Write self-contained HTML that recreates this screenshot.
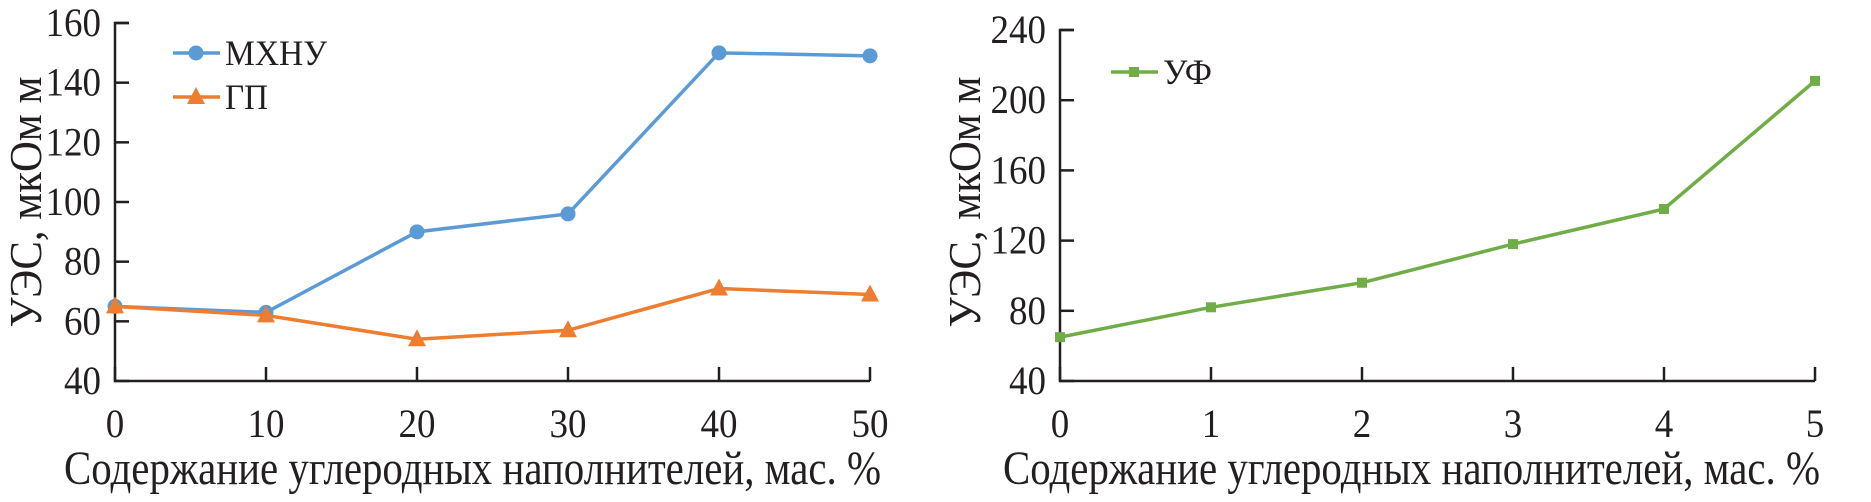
<!DOCTYPE html>
<html><head><meta charset="utf-8"><style>
html,body{margin:0;padding:0;background:#fff;}
svg text{font-family:"Liberation Serif","DejaVu Serif",serif;fill:#231f20;}
</style></head><body>
<svg id="c" width="1871" height="497" xmlns="http://www.w3.org/2000/svg"></svg>
<script>
const xCatsL=[0,10,20,30,40,50];
const mhnu=[65,63,90,96,150,149];
const gp=[65,62,54,57,71,69];
const yTicksL=[40,60,80,100,120,140,160];
const xCatsR=[0,1,2,3,4,5];
const uf=[65,82,96,118,138,211];
const yTicksR=[40,80,120,160,200,240];

const NS="http://www.w3.org/2000/svg";
const svg=document.getElementById('c');
function mk(tag,attrs,parent){const e=document.createElementNS(NS,tag);for(const k in attrs)e.setAttribute(k,attrs[k]);(parent||svg).appendChild(e);return e;}

function panel(o){
  const g=mk('g',{});
  
  
  const sx=v=>o.x0+(v-o.xmin)/(o.xmax-o.xmin)*(o.x1-o.x0);
  const sy=v=>o.y0-(v-o.ymin)/(o.ymax-o.ymin)*(o.y0-o.y1);
  const ax=mk('path',{d:`M${o.x0+14},${o.y1} H${o.x0} V${o.y0} H${o.x1}`,fill:'none',stroke:'#231f20','stroke-width':2.5},g);
  
  
  o.yTicks.forEach(t=>{
    mk('line',{x1:o.x0,x2:o.x0+14,y1:sy(t),y2:sy(t),stroke:'#231f20','stroke-width':2.5},g);
    const s=String(t);
    const tx=mk('text',{x:o.x0-14,y:sy(t)+13,'text-anchor':'end','font-size':40,textLength:s.length*18.5,lengthAdjust:'spacingAndGlyphs'},g);
    tx.textContent=s;
    
    
  });
  o.xCats.forEach(t=>{
    mk('line',{x1:sx(t),x2:sx(t),y1:o.y0,y2:o.y0-14,stroke:'#231f20','stroke-width':2.5},g);
    const s=String(t);
    const tx=mk('text',{x:sx(t),y:o.y0+56,'text-anchor':'middle','font-size':40,textLength:s.length*18.5,lengthAdjust:'spacingAndGlyphs'},g);
    tx.textContent=s;
    
    
  });
  const xt=mk('text',{x:o.xts,y:484,'font-size':48,textLength:817,lengthAdjust:'spacingAndGlyphs'},g);
  xt.textContent='Содержание углеродных наполнителей, мас. %';
  
  
  const cy=202;
  const yt=mk('text',{x:o.ytx,y:cy,'text-anchor':'middle','font-size':46,textLength:251,lengthAdjust:'spacingAndGlyphs',transform:`rotate(-90 ${o.ytx} ${cy})`},g);
  yt.textContent='УЭС, мкОм м';
  
  
  o.series.forEach(s=>{
    const sg=mk('g',{},g);
    
    
    mk('polyline',{points:s.vals.map((v,i)=>sx(o.xCats[i])+','+sy(v)).join(' '),fill:'none',stroke:s.color,'stroke-width':3.5},sg);
    s.vals.forEach((v,i)=>{const m=marker(s,sx(o.xCats[i]),sy(v),sg);
      
      });
    const lg=mk('g',{},g);
    
    
    mk('line',{x1:s.lx,x2:s.lx+47,y1:s.ly,y2:s.ly,stroke:s.color,'stroke-width':3.5},lg);
    marker(s,s.lx+23,s.ly,lg);
    const lt=mk('text',{x:s.lx+52,y:s.ly+12,'font-size':36,textLength:s.lw,lengthAdjust:'spacingAndGlyphs'},lg);
    lt.textContent=s.label;
  });
}
function marker(s,x,y,p){
  if(s.shape==='circle')return mk('circle',{cx:x,cy:y,r:7.5,fill:s.color},p);
  if(s.shape==='tri')return mk('polygon',{points:`${x},${y-10} ${x-9},${y+7} ${x+9},${y+7}`,fill:s.color},p);
  return mk('rect',{x:x-5,y:y-5,width:10,height:10,fill:s.color},p);
}
panel({name:'left-chart',x0:115,x1:870,y0:381,y1:23,xmin:0,xmax:50,ymin:40,ymax:160,xCats:xCatsL,yTicks:yTicksL,ytx:41,xts:64,
  series:[{key:'mhnu',label:'МХНУ',lw:102,vals:mhnu,color:'#5b9bd5',shape:'circle',lx:173,ly:53},
          {key:'gp',label:'ГП',lw:43,vals:gp,color:'#ed7d31',shape:'tri',lx:173,ly:97}]});
panel({name:'right-chart',x0:1060,x1:1815,y0:381,y1:30,xmin:0,xmax:5,ymin:40,ymax:240,xCats:xCatsR,yTicks:yTicksR,ytx:980,xts:1003,
  series:[{key:'uf',label:'УФ',lw:49,vals:uf,color:'#70ad47',shape:'square',lx:1111,ly:72}]});
</script>
</body></html>
